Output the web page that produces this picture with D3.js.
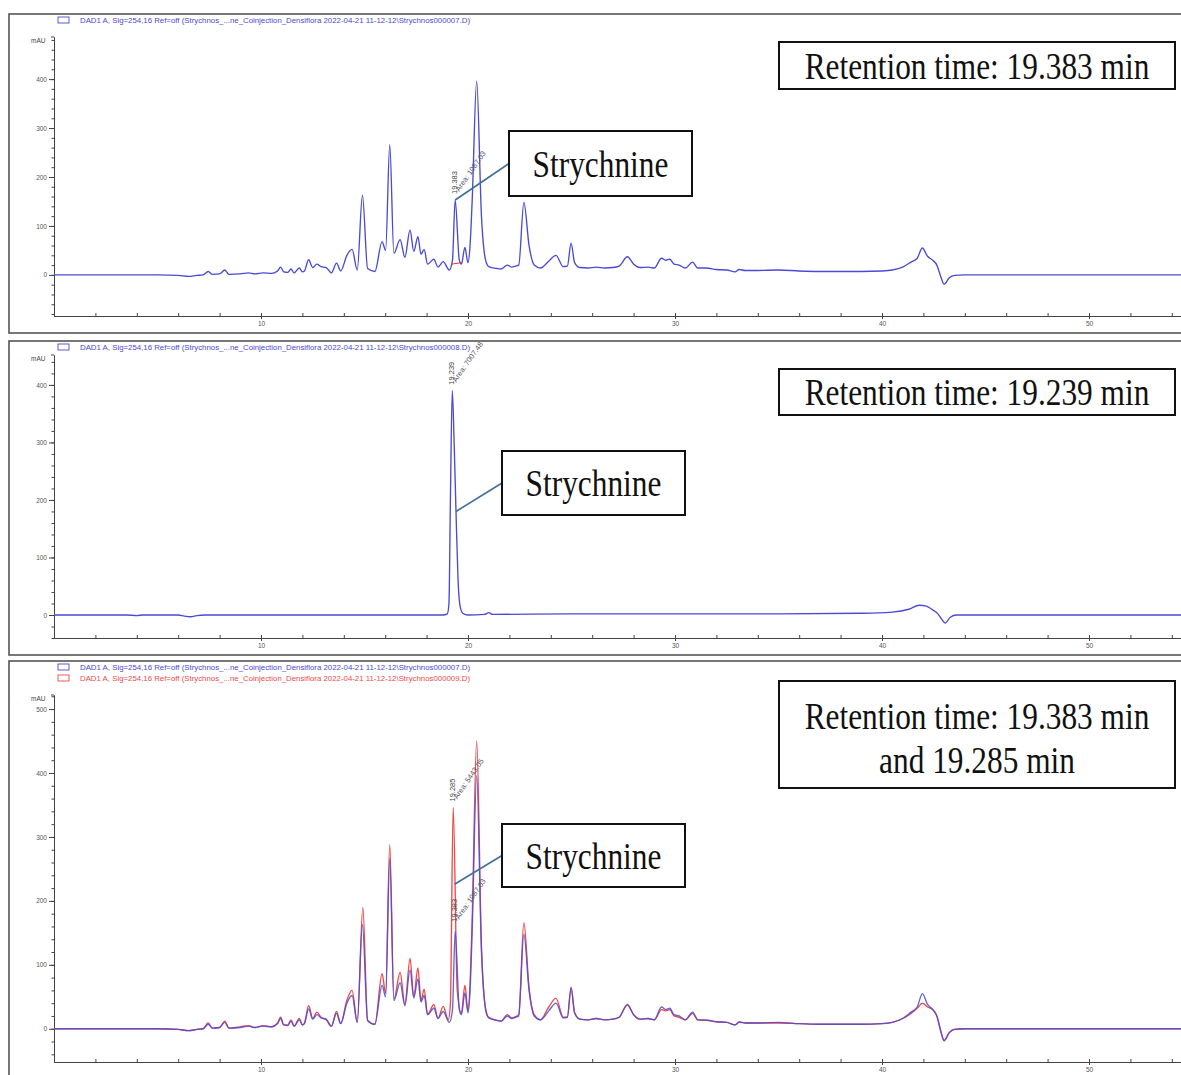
<!DOCTYPE html>
<html>
<head>
<meta charset="utf-8">
<script src="https://cdn.jsdelivr.net/npm/d3@7"></script>
<style>
  body { margin: 0; background: #fff; }
  svg { display: block; }
  .tick text { font-family: "Liberation Sans", Arial, sans-serif; fill: #555; }
  .axis path, .axis line { stroke: #444; }
</style>
</head>
<body>
<svg id="chart" width="1181" height="1075"></svg>
<script>
// chromatogram traces, [time (min), absorbance (mAU)]
const sample7 = [
  [0,0],[5.0,0],[6.0,-1],[6.5,-3],[6.9,-1],[7.2,0],[7.45,7],[7.65,1],[8.0,2],[8.25,10],[8.45,1],
  [9.0,2],[9.4,4],[9.7,2],[10.1,4],[10.5,3],[10.8,8],[10.95,16],[11.1,6],[11.3,5],[11.45,12],
  [11.6,4],[11.85,14],[12.0,6],[12.1,8],[12.3,31],[12.5,15],[12.7,22],[12.9,17],[13.15,15],
  [13.4,4],[13.65,24],[13.85,8],[14.15,40],[14.4,52],[14.65,10],[14.9,163],[15.15,13],[15.5,7],
  [15.85,68],[16.02,50],[16.22,266],[16.42,44],[16.72,72],[16.95,36],[17.2,92],[17.38,48],
  [17.58,78],[17.73,42],[17.88,52],[18.05,22],[18.35,32],[18.55,16],[18.8,27],[19.1,10],
  [19.25,30],[19.38,153],[19.58,30],[19.68,22],[19.85,56],[20.0,25],[20.1,60],[20.2,150],
  [20.42,396],[20.65,120],[20.85,30],[21.0,17],[21.4,13],[21.6,12],[21.9,20],[22.1,16],
  [22.3,18],[22.45,20],[22.7,148],[22.95,60],[23.2,20],[23.5,14],[23.9,28],[24.25,40],
  [24.6,17],[24.8,18],[24.98,65],[25.15,25],[25.4,15],[25.8,14],[26.2,16],[26.6,14],[27.0,15],
  [27.3,18],[27.7,37],[28.0,22],[28.3,15],[28.7,16],[29.0,14],[29.35,34],[29.55,30],[29.75,32],
  [29.95,22],[30.2,20],[30.5,14],[30.85,26],[31.1,14],[31.5,14],[32.0,11],[32.5,10],[32.9,6],
  [33.1,11],[33.4,9],[34.0,9],[35.0,10],[36.0,8],[37.0,7],[38.0,7],[39.0,7],[40.0,8],[40.5,10],
  [41.0,16],[41.4,26],[41.7,34],[41.95,55],[42.2,38],[42.45,30],[42.65,20],[42.85,-5],
  [43.0,-19],[43.25,-6],[43.5,-1],[44.0,0],[56,0]
];

const sample9 = [
  [0,0],[5.0,0],[6.0,-1],[6.5,-3],[6.9,-1],[7.2,0],[7.45,9],[7.65,1],[8.0,2],[8.25,12],[8.45,1],
  [9.0,3],[9.4,5],[9.7,2],[10.1,5],[10.5,3],[10.8,9],[10.95,18],[11.1,6],[11.3,6],[11.45,14],
  [11.6,4],[11.85,16],[12.0,6],[12.1,9],[12.3,36],[12.5,16],[12.7,26],[12.9,18],[13.15,14],
  [13.4,4],[13.65,27],[13.85,8],[14.15,45],[14.4,60],[14.65,10],[14.92,190],[15.15,13],[15.5,7],
  [15.85,86],[16.02,55],[16.22,288],[16.42,46],[16.72,88],[16.95,38],[17.2,110],[17.38,50],
  [17.58,95],[17.73,44],[17.88,62],[18.05,22],[18.35,38],[18.55,16],[18.8,35],[19.05,14],
  [19.15,40],[19.285,346],[19.48,60],[19.68,24],[19.85,68],[20.0,28],[20.1,70],[20.2,170],
  [20.42,450],[20.65,130],[20.85,32],[21.0,18],[21.4,13],[21.6,12],[21.9,22],[22.1,17],
  [22.3,19],[22.45,22],[22.7,166],[22.95,64],[23.2,22],[23.5,14],[23.9,34],[24.25,48],
  [24.6,18],[24.8,18],[24.98,64],[25.15,25],[25.4,15],[25.8,14],[26.2,16],[26.6,14],[27.0,15],
  [27.3,18],[27.7,38],[28.0,22],[28.3,15],[28.7,16],[29.0,14],[29.35,30],[29.55,28],[29.75,30],
  [29.95,20],[30.2,18],[30.5,14],[30.85,24],[31.1,14],[31.5,13],[32.0,11],[32.5,10],[32.9,6],
  [33.1,10],[33.4,9],[34.0,9],[35.0,9],[36.0,8],[37.0,7],[38.0,7],[39.0,7],[40.0,8],[40.5,10],
  [41.0,16],[41.4,24],[41.7,32],[41.95,40],[42.2,34],[42.45,30],[42.65,20],[42.85,-5],
  [43.0,-18],[43.25,-6],[43.5,-1],[44.0,0],[56,0]
];

const standard8 = [
  [0,0],[3.5,0],[4.0,-1],[4.3,0],[6.0,0],[6.3,-2],[6.6,-3],[6.9,-1],[7.3,0],[18.8,0],
  [19.0,2],[19.08,20],[19.15,200],[19.24,390],[19.33,300],[19.42,180],[19.52,60],[19.62,15],
  [19.75,3],[20.0,0],[20.8,1],[21.0,4],[21.2,1],[25,2],[30,2],[35,2],[39,3],[40.5,5],
  [41.3,10],[41.8,17],[42.1,16],[42.4,10],[42.7,2],[42.9,-8],[43.05,-14],[43.3,-4],[43.6,0],[56,0]
];

// axis ticks
const timeLabels = [10, 20, 30, 40, 50];
const timeMinor = d3.range(0, 56, 2);
const valueLabels1 = [0, 100, 200, 300, 400];
const valueLabels2 = [0, 100, 200, 300, 400];
const valueLabels3 = [0, 100, 200, 300, 400, 500];

// legend texts
const legend7 = "DAD1 A, Sig=254,16 Ref=off (Strychnos_...ne_Coinjection_Densiflora 2022-04-21 11-12-12\\Strychnos000007.D)";
const legend8 = "DAD1 A, Sig=254,16 Ref=off (Strychnos_...ne_Coinjection_Densiflora 2022-04-21 11-12-12\\Strychnos000008.D)";
const legend9 = "DAD1 A, Sig=254,16 Ref=off (Strychnos_...ne_Coinjection_Densiflora 2022-04-21 11-12-12\\Strychnos000009.D)";

// peak annotations: [retention time, apex value, area]
const peaks1 = [[19.383, 153, "Area: 1087.03"]];
const peaks2 = [[19.239, 390, "Area: 7007.48"]];
const peaks3 = [[19.285, 346, "Area: 5443.05"], [19.383, 158, "Area: 1087.03"]];

// points where the Strychnine leader line meets the trace
const target1 = [19.38, 153];
const target2 = [19.42, 180];
const target3 = [19.35, 226];

const blue = "#4a4ad4", red = "#ee4a4a";

const svg = d3.select("#chart");

const x = d3.scaleLinear().domain([0, 1]).range([54, 74.7]); // 20.7 px per minute

const panels = [
  { frame: [9, 14, 1200, 319], yDom: [-84, 486], yRange: [316, 37], labels: valueLabels1,
    minorFrom: -80, minorTo: 480,
    legends: [[legend7, blue]], traces: [[sample7, blue]], peaks: peaks1, target: target1,
    baseline: [[19.22, 22], [19.68, 25]],
    rtBox: [779, 42, 396, 47], rtLines: ["Retention time: 19.383 min"], rtShift: 0,
    sBox: [509, 131, 183, 65] },
  { frame: [9, 341, 1200, 314], yDom: [-40, 452], yRange: [638, 355], labels: valueLabels2,
    minorFrom: -40, minorTo: 440,
    legends: [[legend8, blue]], traces: [[standard8, blue]], peaks: peaks2, target: target2,
    baseline: null,
    rtBox: [779, 369, 396, 46], rtLines: ["Retention time: 19.239 min"], rtShift: 0,
    sBox: [502, 451, 183, 64] },
  { frame: [9, 661, 1200, 440], yDom: [-52, 522], yRange: [1062, 695], labels: valueLabels3,
    minorFrom: -40, minorTo: 520,
    legends: [[legend7, blue], [legend9, red]], traces: [[sample9, red], [sample7, blue]],
    peaks: peaks3, target: target3, baseline: null,
    rtBox: [779, 681, 396, 107], rtLines: ["Retention time: 19.383 min", "and 19.285 min"], rtShift: 3,
    sBox: [502, 824, 183, 63] }
];

// the boxed labels are drawn in a slightly tall, stretched serif
function boxText(g, cx, by, s) {
  g.append("text")
    .attr("transform", `translate(${cx},${by}) scale(1.045,1.25)`)
    .attr("text-anchor", "middle")
    .attr("font-family", "Liberation Serif, Times New Roman, serif")
    .attr("font-size", 30).attr("fill", "#111").text(s);
}

panels.forEach(p => {
  const g = svg.append("g");
  const y = d3.scaleLinear().domain(p.yDom).range(p.yRange);
  const axisY = p.yRange[0];

  // frame
  g.append("rect")
    .attr("x", p.frame[0]).attr("y", p.frame[1])
    .attr("width", p.frame[2]).attr("height", p.frame[3])
    .attr("fill", "none").attr("stroke", "#555").attr("stroke-width", 1.6);

  // legend rows
  p.legends.forEach((l, i) => {
    const ly = p.frame[1] + 6 + i * 11;
    g.append("rect").attr("x", 58).attr("y", ly - 3).attr("width", 11).attr("height", 6)
      .attr("fill", "none").attr("stroke", l[1]).attr("stroke-width", 0.9);
    g.append("text").attr("x", 80).attr("y", ly + 2.5)
      .attr("font-family", "Liberation Sans, Arial, sans-serif")
      .attr("font-size", 6.5).attr("fill", l[1])
      .attr("textLength", 390).attr("lengthAdjust", "spacingAndGlyphs")
      .text(l[0]);
  });

  // y axis
  g.append("g").attr("class", "axis").attr("transform", "translate(54,0)")
    .call(d3.axisLeft(y).tickValues(d3.range(p.minorFrom, p.minorTo + 1, 20))
      .tickSize(2.5).tickSizeOuter(0).tickFormat(""));
  g.append("g").attr("class", "axis").attr("transform", "translate(54,0)")
    .call(d3.axisLeft(y).tickValues(p.labels).tickSize(5).tickSizeOuter(0).tickPadding(2))
    .call(a => a.selectAll("text").attr("font-size", 6.5));
  g.append("text").attr("x", 31).attr("y", p.yRange[1] + 6)
    .attr("font-family", "Liberation Sans, Arial, sans-serif").attr("font-size", 6.5)
    .attr("fill", "#444").text("mAU");
  g.append("line").attr("x1", 51).attr("x2", 54)
    .attr("y1", p.yRange[1]).attr("y2", p.yRange[1]).attr("stroke", "#444");

  // x axis
  const xa = x.copy().domain([0, 55.5]).range([x(0), x(55.5)]);
  g.append("g").attr("class", "axis").attr("transform", `translate(0,${axisY})`)
    .call(d3.axisTop(xa).tickValues(timeMinor).tickSize(3).tickSizeOuter(0).tickFormat(""));
  g.append("g").attr("class", "axis").attr("transform", `translate(0,${axisY})`)
    .call(d3.axisBottom(xa).tickValues(timeLabels).tickSize(3).tickSizeOuter(0).tickPadding(2))
    .call(a => a.selectAll("text").attr("font-size", 6.5));

  // traces
  const line = d3.line().x(d => x(d[0])).y(d => y(d[1])).curve(d3.curveMonotoneX);
  p.traces.forEach(t => {
    g.append("path").datum(t[0]).attr("d", line)
      .attr("fill", "none").attr("stroke", t[1]).attr("stroke-width", 1.35)
      .attr("stroke-opacity", t[1] === blue && p.traces.length > 1 ? 0.85 : 1)
      .attr("stroke-linejoin", "round");
  });

  // integration baseline
  if (p.baseline) {
    g.append("path").datum(p.baseline).attr("d", d3.line().x(d => x(d[0])).y(d => y(d[1])))
      .attr("stroke", "#d33").attr("stroke-width", 1).attr("fill", "none");
  }

  // peak labels
  p.peaks.forEach(pk => {
    const px = x(pk[0]), py = y(pk[1]);
    g.append("text").attr("transform", `translate(${px + 2},${py - 6}) rotate(-90)`)
      .attr("font-family", "Liberation Sans, Arial, sans-serif").attr("font-size", 7.5)
      .attr("fill", "#444").text(pk[0].toFixed(3));
    g.append("text").attr("transform", `translate(${px + 4},${py - 8}) rotate(-55)`)
      .attr("font-family", "Liberation Sans, Arial, sans-serif").attr("font-size", 7.5)
      .attr("fill", "#556").text(pk[2]);
  });

  // Strychnine box and leader
  const sb = p.sBox;
  g.append("line")
    .attr("x1", x(p.target[0])).attr("y1", y(p.target[1]))
    .attr("x2", sb[0]).attr("y2", sb[1] + sb[3] / 2)
    .attr("stroke", "#3f6f9f").attr("stroke-width", 1.6);
  g.append("rect").attr("x", sb[0]).attr("y", sb[1]).attr("width", sb[2]).attr("height", sb[3])
    .attr("fill", "#fff").attr("stroke", "#111").attr("stroke-width", 2);
  boxText(g, sb[0] + sb[2] / 2, sb[1] + sb[3] / 2 + 13, "Strychnine");

  // retention time box
  const rb = p.rtBox;
  g.append("rect").attr("x", rb[0]).attr("y", rb[1]).attr("width", rb[2]).attr("height", rb[3])
    .attr("fill", "#fff").attr("stroke", "#111").attr("stroke-width", 2);
  const n = p.rtLines.length;
  p.rtLines.forEach((s, i) => {
    boxText(g, rb[0] + rb[2] / 2, rb[1] + rb[3] / 2 + 13 + p.rtShift + (i - (n - 1) / 2) * 44, s);
  });
});
</script>
</body>
</html>
